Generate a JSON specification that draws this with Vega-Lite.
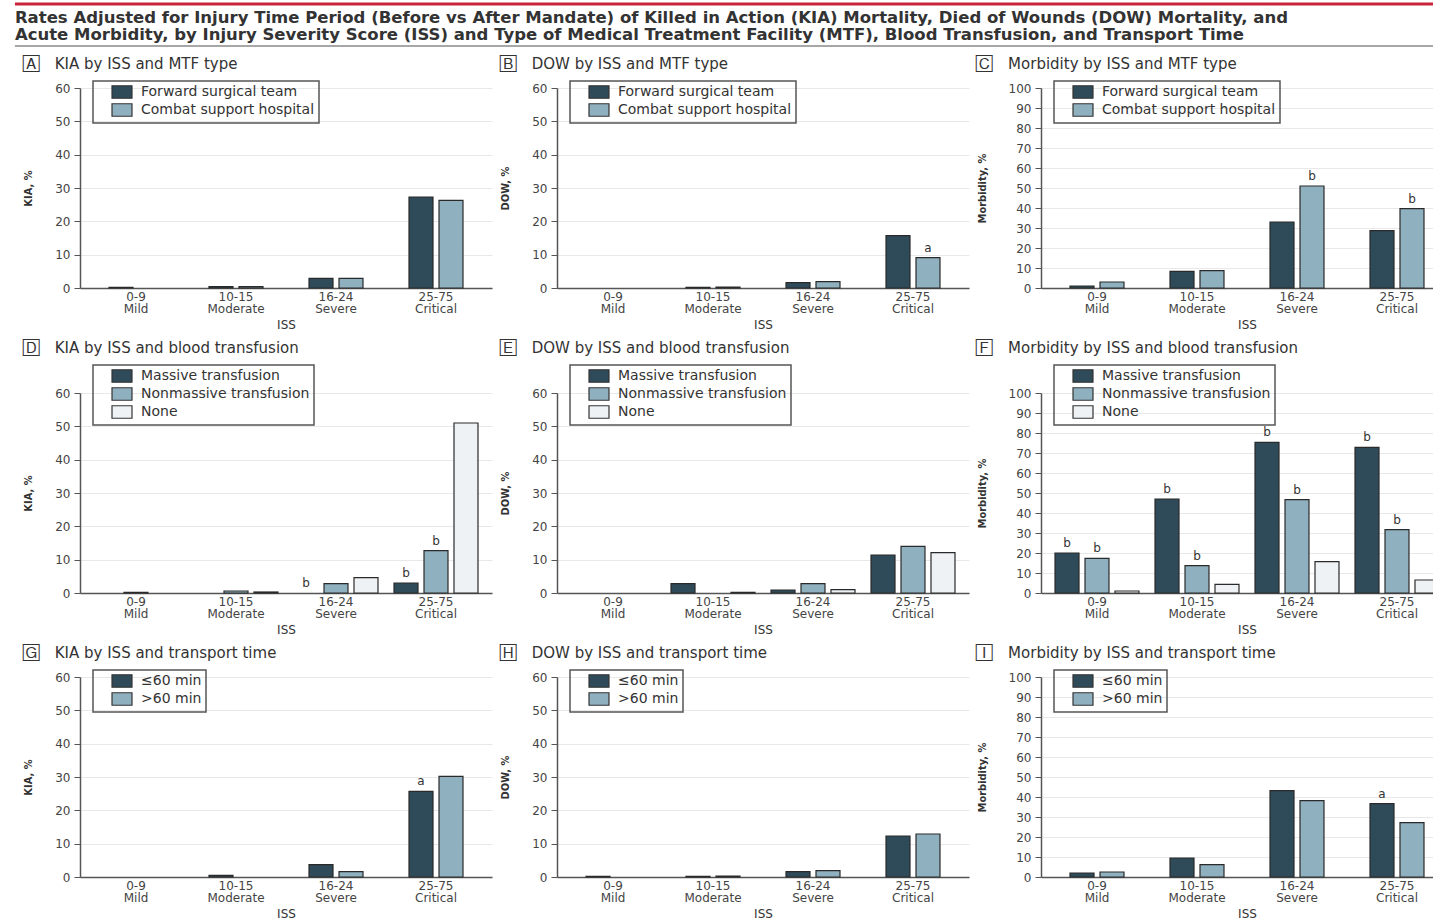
{
  "$schema": "https://vega.github.io/schema/vega-lite/v6.json",
  "padding": {"left": 13, "top": 2, "right": 0, "bottom": 0},
  "config": {
    "font": "DejaVu Sans",
    "view": {"stroke": null},
    "axis": {"labelColor": "#444", "titleColor": "#333", "domainColor": "#555", "labelFontSize": 12, "titleFontSize": 12, "titleFontWeight": "normal"},
    "axisX": {"labelAngle": 0, "ticks": false, "grid": false, "labelPadding": 3, "titlePadding": 5, "domainWidth": 1.5, "labelFontSize": 12, "labelLineHeight": 12, "labelExpr": "split(datum.label, ' ')"},
    "axisY": {"gridColor": "#e8e8e8", "tickColor": "#555", "tickSize": 6, "domainWidth": 1.5, "titlePadding": 21, "labelPadding": 4, "titleFont": "DejaVu Sans Condensed, DejaVu Sans", "titleFontWeight": "bold", "titleFontSize": 11},
    "title": {"anchor": "start", "fontSize": 15, "fontWeight": "normal", "color": "#333", "offset": 8},
    "legend": {"direction": "vertical", "strokeColor": "#555", "strokeWidth": 1.5, "padding": 4, "symbolType": "M-1.6,-1H1.6V1H-1.6Z", "symbolSize": 156, "symbolStrokeColor": "#333", "symbolStrokeWidth": 1.2, "labelFontSize": 14, "labelColor": "#333", "labelLimit": 400, "rowPadding": 0, "symbolOffset": 18, "labelOffset": 12},
    "bar": {"stroke": "#2a2a2a", "strokeWidth": 1.2},
    "text": {"fontSize": 12, "color": "#333", "baseline": "bottom", "dy": -3}
  },
  "columns": 1,
  "spacing": 10,
  "concat": [
    {
      "width": 1356,
      "height": 42,
      "data": {"values": [{}]},
      "encoding": {"x": {"datum": -0.048, "type": "quantitative", "scale": {"domain": [0, 1]}, "axis": null}},
      "layer": [
        {"mark": {"type": "rule", "color": "#c8243a", "strokeWidth": 3}, "encoding": {"x2": {"datum": 1}, "y": {"datum": 1, "type": "quantitative", "scale": {"domain": [0, 1]}, "axis": null}}},
        {"mark": {"type": "rule", "color": "#8a8a8a", "strokeWidth": 1.5}, "encoding": {"x2": {"datum": 1}, "y": {"datum": 0, "type": "quantitative", "axis": null}}},
        {"mark": {"type": "text", "align": "left", "baseline": "top", "dy": 6, "fontWeight": "bold", "fontSize": 16.5, "lineHeight": 17, "color": "#333",
          "text": ["Rates Adjusted for Injury Time Period (Before vs After Mandate) of Killed in Action (KIA) Mortality, Died of Wounds (DOW) Mortality, and", "Acute Morbidity, by Injury Severity Score (ISS) and Type of Medical Treatment Facility (MTF), Blood Transfusion, and Transport Time"]},
         "encoding": {"y": {"datum": 1, "type": "quantitative", "axis": null}}}
      ]
    },
    {
      "columns": 3,
      "spacing": {"row": 11, "column": 7},
      "resolve": {"scale": {"color": "independent", "xOffset": "independent", "x": "independent", "y": "independent"}, "legend": {"color": "independent"}},
      "data": {"values": [
        {"panel": "A", "iss": "0-9 Mild", "grp": "Forward surgical team", "value": 0.2, "note": ""},
        {"panel": "A", "iss": "0-9 Mild", "grp": "Combat support hospital", "value": 0, "note": ""},
        {"panel": "A", "iss": "10-15 Moderate", "grp": "Forward surgical team", "value": 0.4, "note": ""},
        {"panel": "A", "iss": "10-15 Moderate", "grp": "Combat support hospital", "value": 0.4, "note": ""},
        {"panel": "A", "iss": "16-24 Severe", "grp": "Forward surgical team", "value": 2.9, "note": ""},
        {"panel": "A", "iss": "16-24 Severe", "grp": "Combat support hospital", "value": 2.9, "note": ""},
        {"panel": "A", "iss": "25-75 Critical", "grp": "Forward surgical team", "value": 27.3, "note": ""},
        {"panel": "A", "iss": "25-75 Critical", "grp": "Combat support hospital", "value": 26.3, "note": ""},
        {"panel": "B", "iss": "0-9 Mild", "grp": "Forward surgical team", "value": 0, "note": ""},
        {"panel": "B", "iss": "0-9 Mild", "grp": "Combat support hospital", "value": 0, "note": ""},
        {"panel": "B", "iss": "10-15 Moderate", "grp": "Forward surgical team", "value": 0.2, "note": ""},
        {"panel": "B", "iss": "10-15 Moderate", "grp": "Combat support hospital", "value": 0.3, "note": ""},
        {"panel": "B", "iss": "16-24 Severe", "grp": "Forward surgical team", "value": 1.6, "note": ""},
        {"panel": "B", "iss": "16-24 Severe", "grp": "Combat support hospital", "value": 1.9, "note": ""},
        {"panel": "B", "iss": "25-75 Critical", "grp": "Forward surgical team", "value": 15.7, "note": ""},
        {"panel": "B", "iss": "25-75 Critical", "grp": "Combat support hospital", "value": 9.1, "note": "a"},
        {"panel": "C", "iss": "0-9 Mild", "grp": "Forward surgical team", "value": 1.0, "note": ""},
        {"panel": "C", "iss": "0-9 Mild", "grp": "Combat support hospital", "value": 3.0, "note": ""},
        {"panel": "C", "iss": "10-15 Moderate", "grp": "Forward surgical team", "value": 8.3, "note": ""},
        {"panel": "C", "iss": "10-15 Moderate", "grp": "Combat support hospital", "value": 8.7, "note": ""},
        {"panel": "C", "iss": "16-24 Severe", "grp": "Forward surgical team", "value": 33.0, "note": ""},
        {"panel": "C", "iss": "16-24 Severe", "grp": "Combat support hospital", "value": 51.0, "note": "b"},
        {"panel": "C", "iss": "25-75 Critical", "grp": "Forward surgical team", "value": 28.7, "note": ""},
        {"panel": "C", "iss": "25-75 Critical", "grp": "Combat support hospital", "value": 39.7, "note": "b"},
        {"panel": "D", "iss": "0-9 Mild", "grp": "Massive transfusion", "value": 0, "note": ""},
        {"panel": "D", "iss": "0-9 Mild", "grp": "Nonmassive transfusion", "value": 0.2, "note": ""},
        {"panel": "D", "iss": "0-9 Mild", "grp": "None", "value": 0, "note": ""},
        {"panel": "D", "iss": "10-15 Moderate", "grp": "Massive transfusion", "value": 0, "note": ""},
        {"panel": "D", "iss": "10-15 Moderate", "grp": "Nonmassive transfusion", "value": 0.6, "note": ""},
        {"panel": "D", "iss": "10-15 Moderate", "grp": "None", "value": 0.3, "note": ""},
        {"panel": "D", "iss": "16-24 Severe", "grp": "Massive transfusion", "value": 0, "note": "b"},
        {"panel": "D", "iss": "16-24 Severe", "grp": "Nonmassive transfusion", "value": 2.8, "note": ""},
        {"panel": "D", "iss": "16-24 Severe", "grp": "None", "value": 4.6, "note": ""},
        {"panel": "D", "iss": "25-75 Critical", "grp": "Massive transfusion", "value": 3.0, "note": "b"},
        {"panel": "D", "iss": "25-75 Critical", "grp": "Nonmassive transfusion", "value": 12.7, "note": "b"},
        {"panel": "D", "iss": "25-75 Critical", "grp": "None", "value": 51.0, "note": ""},
        {"panel": "E", "iss": "0-9 Mild", "grp": "Massive transfusion", "value": 0, "note": ""},
        {"panel": "E", "iss": "0-9 Mild", "grp": "Nonmassive transfusion", "value": 0, "note": ""},
        {"panel": "E", "iss": "0-9 Mild", "grp": "None", "value": 0, "note": ""},
        {"panel": "E", "iss": "10-15 Moderate", "grp": "Massive transfusion", "value": 2.8, "note": ""},
        {"panel": "E", "iss": "10-15 Moderate", "grp": "Nonmassive transfusion", "value": 0, "note": ""},
        {"panel": "E", "iss": "10-15 Moderate", "grp": "None", "value": 0.2, "note": ""},
        {"panel": "E", "iss": "16-24 Severe", "grp": "Massive transfusion", "value": 0.9, "note": ""},
        {"panel": "E", "iss": "16-24 Severe", "grp": "Nonmassive transfusion", "value": 2.8, "note": ""},
        {"panel": "E", "iss": "16-24 Severe", "grp": "None", "value": 1.0, "note": ""},
        {"panel": "E", "iss": "25-75 Critical", "grp": "Massive transfusion", "value": 11.4, "note": ""},
        {"panel": "E", "iss": "25-75 Critical", "grp": "Nonmassive transfusion", "value": 14.0, "note": ""},
        {"panel": "E", "iss": "25-75 Critical", "grp": "None", "value": 12.1, "note": ""},
        {"panel": "F", "iss": "0-9 Mild", "grp": "Massive transfusion", "value": 20.0, "note": "b"},
        {"panel": "F", "iss": "0-9 Mild", "grp": "Nonmassive transfusion", "value": 17.3, "note": "b"},
        {"panel": "F", "iss": "0-9 Mild", "grp": "None", "value": 1.0, "note": ""},
        {"panel": "F", "iss": "10-15 Moderate", "grp": "Massive transfusion", "value": 47.0, "note": "b"},
        {"panel": "F", "iss": "10-15 Moderate", "grp": "Nonmassive transfusion", "value": 13.7, "note": "b"},
        {"panel": "F", "iss": "10-15 Moderate", "grp": "None", "value": 4.3, "note": ""},
        {"panel": "F", "iss": "16-24 Severe", "grp": "Massive transfusion", "value": 75.3, "note": "b"},
        {"panel": "F", "iss": "16-24 Severe", "grp": "Nonmassive transfusion", "value": 46.7, "note": "b"},
        {"panel": "F", "iss": "16-24 Severe", "grp": "None", "value": 15.7, "note": ""},
        {"panel": "F", "iss": "25-75 Critical", "grp": "Massive transfusion", "value": 72.8, "note": "b"},
        {"panel": "F", "iss": "25-75 Critical", "grp": "Nonmassive transfusion", "value": 31.7, "note": "b"},
        {"panel": "F", "iss": "25-75 Critical", "grp": "None", "value": 6.5, "note": ""},
        {"panel": "G", "iss": "0-9 Mild", "grp": "≤60 min", "value": 0, "note": ""},
        {"panel": "G", "iss": "0-9 Mild", "grp": ">60 min", "value": 0, "note": ""},
        {"panel": "G", "iss": "10-15 Moderate", "grp": "≤60 min", "value": 0.5, "note": ""},
        {"panel": "G", "iss": "10-15 Moderate", "grp": ">60 min", "value": 0, "note": ""},
        {"panel": "G", "iss": "16-24 Severe", "grp": "≤60 min", "value": 3.7, "note": ""},
        {"panel": "G", "iss": "16-24 Severe", "grp": ">60 min", "value": 1.6, "note": ""},
        {"panel": "G", "iss": "25-75 Critical", "grp": "≤60 min", "value": 25.7, "note": "a"},
        {"panel": "G", "iss": "25-75 Critical", "grp": ">60 min", "value": 30.2, "note": ""},
        {"panel": "H", "iss": "0-9 Mild", "grp": "≤60 min", "value": 0.2, "note": ""},
        {"panel": "H", "iss": "0-9 Mild", "grp": ">60 min", "value": 0, "note": ""},
        {"panel": "H", "iss": "10-15 Moderate", "grp": "≤60 min", "value": 0.2, "note": ""},
        {"panel": "H", "iss": "10-15 Moderate", "grp": ">60 min", "value": 0.3, "note": ""},
        {"panel": "H", "iss": "16-24 Severe", "grp": "≤60 min", "value": 1.6, "note": ""},
        {"panel": "H", "iss": "16-24 Severe", "grp": ">60 min", "value": 1.9, "note": ""},
        {"panel": "H", "iss": "25-75 Critical", "grp": "≤60 min", "value": 12.3, "note": ""},
        {"panel": "H", "iss": "25-75 Critical", "grp": ">60 min", "value": 12.9, "note": ""},
        {"panel": "I", "iss": "0-9 Mild", "grp": "≤60 min", "value": 2.0, "note": ""},
        {"panel": "I", "iss": "0-9 Mild", "grp": ">60 min", "value": 2.5, "note": ""},
        {"panel": "I", "iss": "10-15 Moderate", "grp": "≤60 min", "value": 9.5, "note": ""},
        {"panel": "I", "iss": "10-15 Moderate", "grp": ">60 min", "value": 6.2, "note": ""},
        {"panel": "I", "iss": "16-24 Severe", "grp": "≤60 min", "value": 43.2, "note": ""},
        {"panel": "I", "iss": "16-24 Severe", "grp": ">60 min", "value": 38.2, "note": ""},
        {"panel": "I", "iss": "25-75 Critical", "grp": "≤60 min", "value": 36.7, "note": "a"},
        {"panel": "I", "iss": "25-75 Critical", "grp": ">60 min", "value": 27.2, "note": ""}
      ]},
      "concat": [
        {
          "title": "🄰\u2002\u2002KIA by ISS and MTF type",
          "width": 412, "height": 200,
          "transform": [{"filter": "datum.panel === 'A'"}],
          "encoding": {
            "x": {"field": "iss", "type": "nominal", "scale": {"domain": ["0-9 Mild", "10-15 Moderate", "16-24 Severe", "25-75 Critical"], "paddingInner": 0, "paddingOuter": 0.06}, "axis": {"title": "ISS"}},
            "xOffset": {"field": "grp", "type": "nominal", "scale": {"domain": ["Forward surgical team", "Combat support hospital"], "paddingInner": 0.2, "paddingOuter": 0.767}},
            "y": {"field": "value", "type": "quantitative", "scale": {"domain": [0, 60]}, "axis": {"title": "KIA, %", "values": [0, 10, 20, 30, 40, 50, 60]}}
          },
          "layer": [
            {"transform": [{"filter": "datum.value > 0"}], "mark": "bar", "encoding": {"color": {"field": "grp", "type": "nominal", "title": null, "scale": {"domain": ["Forward surgical team", "Combat support hospital"], "range": ["#2f4b59", "#8fb0bf"]}, "legend": {"orient": "none", "legendX": 13, "legendY": -7}}}},
            {"transform": [{"filter": "datum.note != ''"}], "mark": "text", "encoding": {"text": {"field": "note"}}}
          ]
        },
        {
          "title": "🄱\u2002\u2002DOW by ISS and MTF type",
          "width": 412, "height": 200,
          "transform": [{"filter": "datum.panel === 'B'"}],
          "encoding": {
            "x": {"field": "iss", "type": "nominal", "scale": {"domain": ["0-9 Mild", "10-15 Moderate", "16-24 Severe", "25-75 Critical"], "paddingInner": 0, "paddingOuter": 0.06}, "axis": {"title": "ISS"}},
            "xOffset": {"field": "grp", "type": "nominal", "scale": {"domain": ["Forward surgical team", "Combat support hospital"], "paddingInner": 0.2, "paddingOuter": 0.767}},
            "y": {"field": "value", "type": "quantitative", "scale": {"domain": [0, 60]}, "axis": {"title": "DOW, %", "values": [0, 10, 20, 30, 40, 50, 60]}}
          },
          "layer": [
            {"transform": [{"filter": "datum.value > 0"}], "mark": "bar", "encoding": {"color": {"field": "grp", "type": "nominal", "title": null, "scale": {"domain": ["Forward surgical team", "Combat support hospital"], "range": ["#2f4b59", "#8fb0bf"]}, "legend": {"orient": "none", "legendX": 13, "legendY": -7}}}},
            {"transform": [{"filter": "datum.note != ''"}], "mark": "text", "encoding": {"text": {"field": "note"}}}
          ]
        },
        {
          "title": "🄲\u2002\u2002Morbidity by ISS and MTF type",
          "width": 412, "height": 200,
          "transform": [{"filter": "datum.panel === 'C'"}],
          "encoding": {
            "x": {"field": "iss", "type": "nominal", "scale": {"domain": ["0-9 Mild", "10-15 Moderate", "16-24 Severe", "25-75 Critical"], "paddingInner": 0, "paddingOuter": 0.06}, "axis": {"title": "ISS"}},
            "xOffset": {"field": "grp", "type": "nominal", "scale": {"domain": ["Forward surgical team", "Combat support hospital"], "paddingInner": 0.2, "paddingOuter": 0.767}},
            "y": {"field": "value", "type": "quantitative", "scale": {"domain": [0, 100]}, "axis": {"title": "Morbidity, %", "values": [0, 10, 20, 30, 40, 50, 60, 70, 80, 90, 100]}}
          },
          "layer": [
            {"transform": [{"filter": "datum.value > 0"}], "mark": "bar", "encoding": {"color": {"field": "grp", "type": "nominal", "title": null, "scale": {"domain": ["Forward surgical team", "Combat support hospital"], "range": ["#2f4b59", "#8fb0bf"]}, "legend": {"orient": "none", "legendX": 13, "legendY": -7}}}},
            {"transform": [{"filter": "datum.note != ''"}], "mark": "text", "encoding": {"text": {"field": "note"}}}
          ]
        },
        {
          "title": "🄳\u2002\u2002KIA by ISS and blood transfusion",
          "width": 412, "height": 200,
          "transform": [{"filter": "datum.panel === 'D'"}],
          "encoding": {
            "x": {"field": "iss", "type": "nominal", "scale": {"domain": ["0-9 Mild", "10-15 Moderate", "16-24 Severe", "25-75 Critical"], "paddingInner": 0, "paddingOuter": 0.06}, "axis": {"title": "ISS"}},
            "xOffset": {"field": "grp", "type": "nominal", "scale": {"domain": ["Massive transfusion", "Nonmassive transfusion", "None"], "paddingInner": 0.2, "paddingOuter": 0.267}},
            "y": {"field": "value", "type": "quantitative", "scale": {"domain": [0, 60]}, "axis": {"title": "KIA, %", "values": [0, 10, 20, 30, 40, 50, 60]}}
          },
          "layer": [
            {"transform": [{"filter": "datum.value > 0"}], "mark": "bar", "encoding": {"color": {"field": "grp", "type": "nominal", "title": null, "scale": {"domain": ["Massive transfusion", "Nonmassive transfusion", "None"], "range": ["#2f4b59", "#8fb0bf", "#eef2f4"]}, "legend": {"orient": "none", "legendX": 13, "legendY": -28}}}},
            {"transform": [{"filter": "datum.note != ''"}], "mark": "text", "encoding": {"text": {"field": "note"}}}
          ]
        },
        {
          "title": "🄴\u2002\u2002DOW by ISS and blood transfusion",
          "width": 412, "height": 200,
          "transform": [{"filter": "datum.panel === 'E'"}],
          "encoding": {
            "x": {"field": "iss", "type": "nominal", "scale": {"domain": ["0-9 Mild", "10-15 Moderate", "16-24 Severe", "25-75 Critical"], "paddingInner": 0, "paddingOuter": 0.06}, "axis": {"title": "ISS"}},
            "xOffset": {"field": "grp", "type": "nominal", "scale": {"domain": ["Massive transfusion", "Nonmassive transfusion", "None"], "paddingInner": 0.2, "paddingOuter": 0.267}},
            "y": {"field": "value", "type": "quantitative", "scale": {"domain": [0, 60]}, "axis": {"title": "DOW, %", "values": [0, 10, 20, 30, 40, 50, 60]}}
          },
          "layer": [
            {"transform": [{"filter": "datum.value > 0"}], "mark": "bar", "encoding": {"color": {"field": "grp", "type": "nominal", "title": null, "scale": {"domain": ["Massive transfusion", "Nonmassive transfusion", "None"], "range": ["#2f4b59", "#8fb0bf", "#eef2f4"]}, "legend": {"orient": "none", "legendX": 13, "legendY": -28}}}},
            {"transform": [{"filter": "datum.note != ''"}], "mark": "text", "encoding": {"text": {"field": "note"}}}
          ]
        },
        {
          "title": "🄵\u2002\u2002Morbidity by ISS and blood transfusion",
          "width": 412, "height": 200,
          "transform": [{"filter": "datum.panel === 'F'"}],
          "encoding": {
            "x": {"field": "iss", "type": "nominal", "scale": {"domain": ["0-9 Mild", "10-15 Moderate", "16-24 Severe", "25-75 Critical"], "paddingInner": 0, "paddingOuter": 0.06}, "axis": {"title": "ISS"}},
            "xOffset": {"field": "grp", "type": "nominal", "scale": {"domain": ["Massive transfusion", "Nonmassive transfusion", "None"], "paddingInner": 0.2, "paddingOuter": 0.267}},
            "y": {"field": "value", "type": "quantitative", "scale": {"domain": [0, 100]}, "axis": {"title": "Morbidity, %", "values": [0, 10, 20, 30, 40, 50, 60, 70, 80, 90, 100]}}
          },
          "layer": [
            {"transform": [{"filter": "datum.value > 0"}], "mark": "bar", "encoding": {"color": {"field": "grp", "type": "nominal", "title": null, "scale": {"domain": ["Massive transfusion", "Nonmassive transfusion", "None"], "range": ["#2f4b59", "#8fb0bf", "#eef2f4"]}, "legend": {"orient": "none", "legendX": 13, "legendY": -28}}}},
            {"transform": [{"filter": "datum.note != ''"}], "mark": "text", "encoding": {"text": {"field": "note"}}}
          ]
        },
        {
          "title": "🄶\u2002\u2002KIA by ISS and transport time",
          "width": 412, "height": 200,
          "transform": [{"filter": "datum.panel === 'G'"}],
          "encoding": {
            "x": {"field": "iss", "type": "nominal", "scale": {"domain": ["0-9 Mild", "10-15 Moderate", "16-24 Severe", "25-75 Critical"], "paddingInner": 0, "paddingOuter": 0.06}, "axis": {"title": "ISS"}},
            "xOffset": {"field": "grp", "type": "nominal", "scale": {"domain": ["≤60 min", ">60 min"], "paddingInner": 0.2, "paddingOuter": 0.767}},
            "y": {"field": "value", "type": "quantitative", "scale": {"domain": [0, 60]}, "axis": {"title": "KIA, %", "values": [0, 10, 20, 30, 40, 50, 60]}}
          },
          "layer": [
            {"transform": [{"filter": "datum.value > 0"}], "mark": "bar", "encoding": {"color": {"field": "grp", "type": "nominal", "title": null, "scale": {"domain": ["≤60 min", ">60 min"], "range": ["#2f4b59", "#8fb0bf"]}, "legend": {"orient": "none", "legendX": 13, "legendY": -7}}}},
            {"transform": [{"filter": "datum.note != ''"}], "mark": "text", "encoding": {"text": {"field": "note"}}}
          ]
        },
        {
          "title": "🄷\u2002\u2002DOW by ISS and transport time",
          "width": 412, "height": 200,
          "transform": [{"filter": "datum.panel === 'H'"}],
          "encoding": {
            "x": {"field": "iss", "type": "nominal", "scale": {"domain": ["0-9 Mild", "10-15 Moderate", "16-24 Severe", "25-75 Critical"], "paddingInner": 0, "paddingOuter": 0.06}, "axis": {"title": "ISS"}},
            "xOffset": {"field": "grp", "type": "nominal", "scale": {"domain": ["≤60 min", ">60 min"], "paddingInner": 0.2, "paddingOuter": 0.767}},
            "y": {"field": "value", "type": "quantitative", "scale": {"domain": [0, 60]}, "axis": {"title": "DOW, %", "values": [0, 10, 20, 30, 40, 50, 60]}}
          },
          "layer": [
            {"transform": [{"filter": "datum.value > 0"}], "mark": "bar", "encoding": {"color": {"field": "grp", "type": "nominal", "title": null, "scale": {"domain": ["≤60 min", ">60 min"], "range": ["#2f4b59", "#8fb0bf"]}, "legend": {"orient": "none", "legendX": 13, "legendY": -7}}}},
            {"transform": [{"filter": "datum.note != ''"}], "mark": "text", "encoding": {"text": {"field": "note"}}}
          ]
        },
        {
          "title": "🄸\u2002\u2002Morbidity by ISS and transport time",
          "width": 412, "height": 200,
          "transform": [{"filter": "datum.panel === 'I'"}],
          "encoding": {
            "x": {"field": "iss", "type": "nominal", "scale": {"domain": ["0-9 Mild", "10-15 Moderate", "16-24 Severe", "25-75 Critical"], "paddingInner": 0, "paddingOuter": 0.06}, "axis": {"title": "ISS"}},
            "xOffset": {"field": "grp", "type": "nominal", "scale": {"domain": ["≤60 min", ">60 min"], "paddingInner": 0.2, "paddingOuter": 0.767}},
            "y": {"field": "value", "type": "quantitative", "scale": {"domain": [0, 100]}, "axis": {"title": "Morbidity, %", "values": [0, 10, 20, 30, 40, 50, 60, 70, 80, 90, 100]}}
          },
          "layer": [
            {"transform": [{"filter": "datum.value > 0"}], "mark": "bar", "encoding": {"color": {"field": "grp", "type": "nominal", "title": null, "scale": {"domain": ["≤60 min", ">60 min"], "range": ["#2f4b59", "#8fb0bf"]}, "legend": {"orient": "none", "legendX": 13, "legendY": -7}}}},
            {"transform": [{"filter": "datum.note != ''"}], "mark": "text", "encoding": {"text": {"field": "note"}}}
          ]
        }
      ]
    }
  ]
}
